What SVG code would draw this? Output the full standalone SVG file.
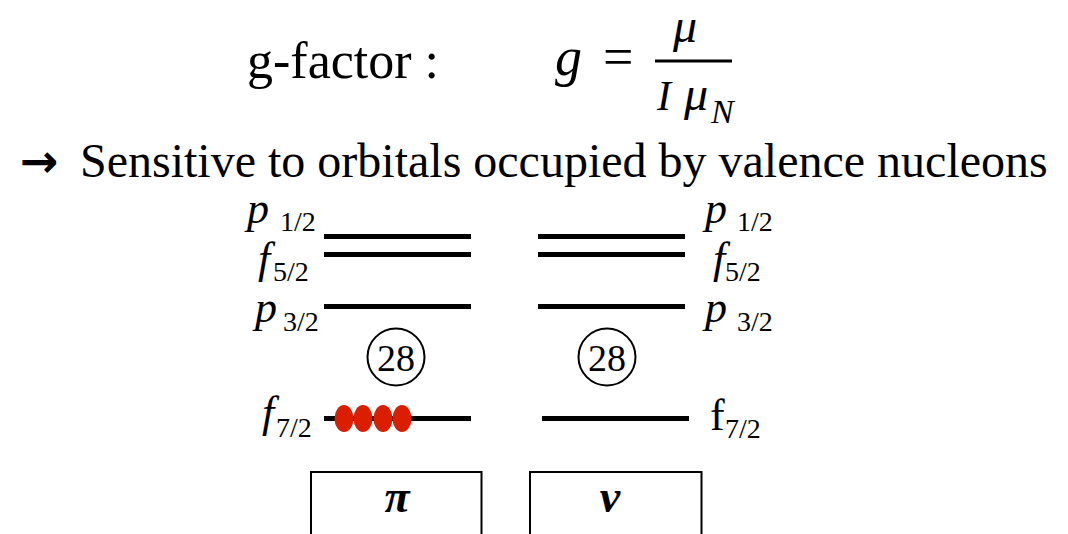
<svg xmlns="http://www.w3.org/2000/svg" width="1068" height="534" viewBox="0 0 1068 534">
<defs>
<line id="lvl" x1="0" y1="0" x2="147" y2="0" stroke="#000" stroke-width="5"/>
<ellipse id="dot" cx="0" cy="0" rx="9.5" ry="13.5" fill="#dc1e00"/>
<circle id="magic" cx="0" cy="0" r="28.5" fill="none" stroke="#000" stroke-width="2"/>
</defs>
<rect width="1068" height="534" fill="#fff"/>
<g id="title">
<text x="247" y="78" font-family="Liberation Serif" font-size="52">g-factor :</text>
</g>
<g id="formula">
<text x="555" y="75" font-family="Liberation Serif" font-size="54" font-style="italic">g</text>
<text x="603" y="75" font-family="Liberation Serif" font-size="54">=</text>
<line x1="655" y1="61" x2="732" y2="61" stroke="#000" stroke-width="3"/>
<text x="673" y="42" font-family="Liberation Serif" font-size="48" font-style="italic">μ</text>
<text x="657" y="110" font-family="Liberation Serif" font-size="42" font-style="italic">I</text>
<text x="684" y="110" font-family="Liberation Serif" font-size="48" font-style="italic">μ</text>
<text x="711" y="123" font-family="Liberation Serif" font-size="34" font-style="italic">N</text>
</g>
<g id="statement">
<text x="20" y="177" font-family="DejaVu Sans" font-size="46" font-weight="bold">→</text>
<text x="80" y="177" font-family="Liberation Serif" font-size="48">Sensitive to orbitals occupied by valence nucleons</text>
</g>
<g id="proton-levels">
<use href="#lvl" x="324" y="236.5"/>
<use href="#lvl" x="324" y="254.5"/>
<use href="#lvl" x="324" y="306.5"/>
<use href="#lvl" x="324" y="418.5"/>
<text x="247" y="223" font-family="Liberation Serif" font-size="44" font-style="italic">p</text><text x="280" y="231" font-family="Liberation Serif" font-size="28">1/2</text>
<text x="258" y="273" font-family="Liberation Serif" font-size="44" font-style="italic">f</text><text x="273" y="281" font-family="Liberation Serif" font-size="28">5/2</text>
<text x="255" y="322" font-family="Liberation Serif" font-size="44" font-style="italic">p</text><text x="283" y="331" font-family="Liberation Serif" font-size="28">3/2</text>
<text x="262" y="427" font-family="Liberation Serif" font-size="44" font-style="italic">f</text><text x="276" y="437" font-family="Liberation Serif" font-size="28">7/2</text>
</g>
<g id="proton-particles">
<use href="#dot" x="344" y="418.5"/>
<use href="#dot" x="363" y="418.5"/>
<use href="#dot" x="383" y="418.5"/>
<use href="#dot" x="402" y="418.5"/>
</g>
<g id="proton-magic">
<use href="#magic" x="396" y="357"/>
<text x="396" y="371" text-anchor="middle" font-family="Liberation Serif" font-size="38">28</text>
</g>
<g id="neutron-levels">
<use href="#lvl" x="538" y="236.5"/>
<use href="#lvl" x="538" y="254.5"/>
<use href="#lvl" x="538" y="306.5"/>
<use href="#lvl" x="542" y="418.5"/>
<text x="705" y="223" font-family="Liberation Serif" font-size="44" font-style="italic">p</text><text x="737" y="231" font-family="Liberation Serif" font-size="28">1/2</text>
<text x="713" y="273" font-family="Liberation Serif" font-size="44" font-style="italic">f</text><text x="725" y="281" font-family="Liberation Serif" font-size="28">5/2</text>
<text x="705" y="322" font-family="Liberation Serif" font-size="44" font-style="italic">p</text><text x="737" y="331" font-family="Liberation Serif" font-size="28">3/2</text>
<text x="710" y="430" font-family="Liberation Serif" font-size="44">f</text><text x="725" y="438" font-family="Liberation Serif" font-size="28">7/2</text>
</g>
<g id="neutron-magic">
<use href="#magic" x="607" y="357"/>
<text x="607" y="371" text-anchor="middle" font-family="Liberation Serif" font-size="38">28</text>
</g>
<g id="proton-box">
<path d="M311,534 V472 H481.5 V534" fill="none" stroke="#000" stroke-width="2"/>
<text x="397" y="512" text-anchor="middle" font-family="Liberation Serif" font-size="46" font-weight="bold" font-style="italic">π</text>
</g>
<g id="neutron-box">
<path d="M530,534 V472 H701.5 V534" fill="none" stroke="#000" stroke-width="2"/>
<text x="610" y="512" text-anchor="middle" font-family="Liberation Serif" font-size="46" font-weight="bold" font-style="italic">ν</text>
</g>
</svg>
